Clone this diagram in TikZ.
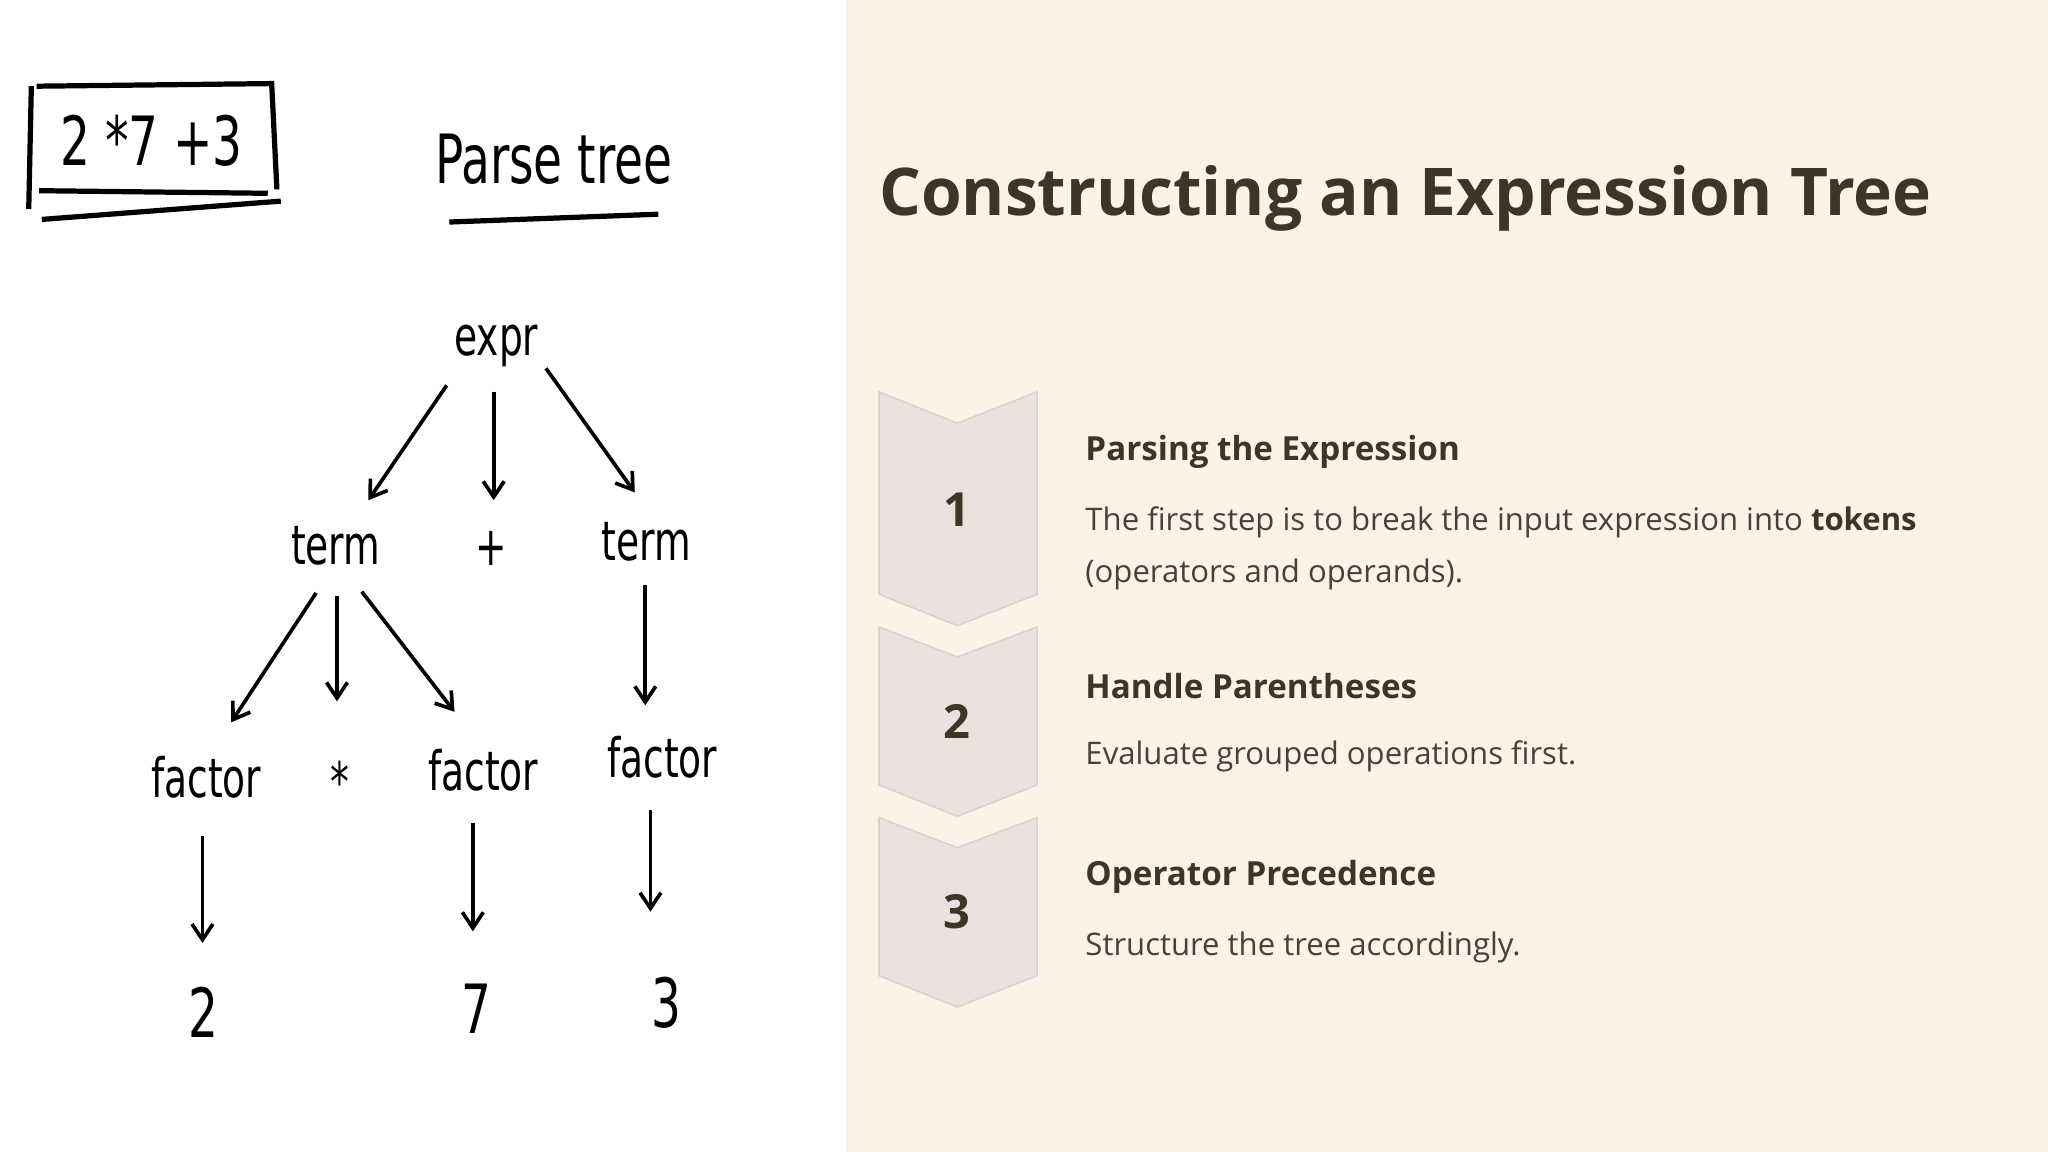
\documentclass[tikz,border=0pt]{standalone}
\usepackage{fontspec}
\usetikzlibrary{arrows.meta}
\setmainfont{Open Sans}
\newfontfamily\hand{DejaVu Sans Condensed}
\definecolor{beige}{HTML}{FDF2E6}
\definecolor{ink}{HTML}{3E3428}
\definecolor{body}{HTML}{4A4038}
\definecolor{chev}{HTML}{EAE2DE}
\definecolor{chevb}{HTML}{DDD3CE}
\begin{document}
\begin{tikzpicture}[x=0.5pt,y=-0.5pt,
  hw/.style={font=\hand\fontsize{16}{18}\selectfont, text=black, yscale=1.3, transform shape},
  big/.style={font=\hand\fontsize{20}{22}\selectfont},
  harr/.style={-{Straight Barb[length=6pt,width=8pt]}, line width=1.4pt, black},
  chevshape/.style={fill=chev, draw=chevb, line width=0.6pt},
  num/.style={font=\bfseries\fontsize{18}{20}\selectfont, text=ink},
  head/.style={font=\bfseries\fontsize{12.7}{15}\selectfont, text=ink, anchor=west},
  txt/.style={font=\fontsize{11.9}{14}\selectfont, text=body, anchor=west}]
\useasboundingbox (0,0) rectangle (1568,882);
\fill[white] (0,0) rectangle (648,882);
\fill[beige] (648,0) rectangle (1568,882);
% left handwritten
\draw[line width=2pt] (24,66) -- (22,160) (28,66) -- (208,64) -- (212,145) (30,146) -- (205,148) (32,168) -- (215,154);
\node[hw, big] (expr0) at (116,108) {2 *7 +3};
\node[hw, big] (pt) at (424,122) {Parse tree};
\draw[line width=2pt] (344,170) -- (504,164);
\node[hw] (e) at (380,265) {expr};
\node[hw] (t1) at (257,418) {term};
\node[hw] (p) at (376,420) {+};
\node[hw] (t2) at (495,415) {term};
\node[hw] (f1) at (158,595) {factor};
\node[hw] (m) at (260,598) {*};
\node[hw] (f2) at (370,590) {factor};
\node[hw] (f3) at (507,580) {factor};
\node[hw,big] (n2) at (156,775) {2};
\node[hw,big] (n7) at (365,772) {7};
\node[hw,big] (n3) at (510,768) {3};
\draw[harr] (342,295) -- (282,383);
\draw[harr] (378,300) -- (378,383);
\draw[harr] (418,282) -- (486,377);
\draw[harr] (242,454) -- (177,553);
\draw[harr] (258,456) -- (258,537);
\draw[harr] (277,453) -- (348,545);
\draw[harr] (494,448) -- (494,540);
\draw[harr] (155,640) -- (155,722);
\draw[harr] (362,630) -- (362,713);
\draw[harr] (498,620) -- (498,698);
% title
\node[font=\bfseries\fontsize{25.2}{30}\selectfont, text=ink, anchor=west] (title) at (666,152) {Constructing an Expression Tree};
% chevrons
\draw[chevshape] (673,300) -- (733,324) -- (794,300) -- (794,455) -- (733,479) -- (673,455) -- cycle;
\draw[chevshape] (673,480) -- (733,503) -- (794,480) -- (794,601) -- (733,625) -- (673,601) -- cycle;
\draw[chevshape] (673,626) -- (733,649) -- (794,626) -- (794,747) -- (733,771) -- (673,747) -- cycle;
\node[num] (c1) at (733,390) {1};
\node[num] (c2) at (733,552) {2};
\node[num] (c3) at (733,698) {3};
\node[head] (h1) at (824,346) {Parsing the Expression};
\node[txt] (b1) at (824,400) {The first step is to break the input expression into \textbf{\color{ink}tokens}};
\node[txt] (b1b) at (824,440) {(operators and operands).};
\node[head] (h2) at (824,525) {Handle Parentheses};
\node[txt] (b2) at (824,579) {Evaluate grouped operations first.};
\node[head] (h3) at (824,671) {Operator Precedence};
\node[txt] (b3) at (824,725) {Structure the tree accordingly.};
\end{tikzpicture}
\end{document}
